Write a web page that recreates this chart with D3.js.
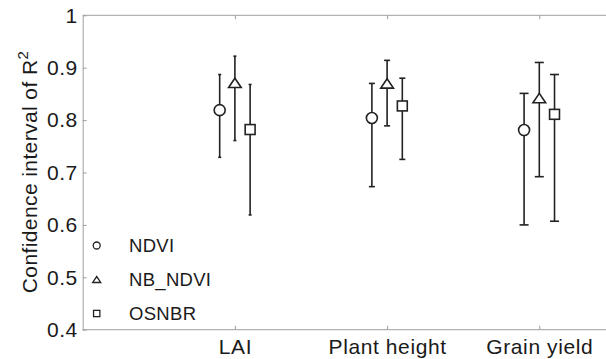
<!DOCTYPE html>
<html><head><meta charset="utf-8">
<script src="https://cdn.jsdelivr.net/npm/d3@7"></script>
<style>body{margin:0;background:#fff}svg{display:block}text{font-family:"Liberation Sans",Arial,Helvetica,sans-serif;fill:#1a1a1a}</style>
</head><body><svg id="c" width="606" height="359"></svg>
<script>
const categories = ["LAI", "Plant height", "Grain yield"];
const seriesNames = ["NDVI", "NB_NDVI", "OSNBR"];
const ndviMid   = [0.819, 0.804, 0.781];
const ndviLow   = [0.729, 0.673, 0.600];
const ndviHigh  = [0.887, 0.870, 0.851];
const nbMid     = [0.871, 0.870, 0.842];
const nbLow     = [0.761, 0.789, 0.692];
const nbHigh    = [0.922, 0.914, 0.910];
const osMid     = [0.782, 0.827, 0.811];
const osLow     = [0.619, 0.725, 0.607];
const osHigh    = [0.868, 0.880, 0.887];
const yTicks = [0.4, 0.5, 0.6, 0.7, 0.8, 0.9, 1];

const series = [
  {name: seriesNames[0], shape: "circle",   mid: ndviMid, low: ndviLow, high: ndviHigh, off: -0.1},
  {name: seriesNames[1], shape: "triangle", mid: nbMid,   low: nbLow,   high: nbHigh,   off: 0},
  {name: seriesNames[2], shape: "square",   mid: osMid,   low: osLow,   high: osHigh,   off: 0.1}
];
const capHalf = [1.5, 3, 4.5];

const svg = d3.select("#c");
const L = 82.7, T = 15.3, B = 329.7, unit = 152.2;
const x = d3.scaleLinear().domain([0, 4]).range([L, L + 4 * unit]);
const y = d3.scaleLinear().domain([0.4, 1]).range([B, T]);
const axisColor = "#a0a0a0";
const fontFam = "'Liberation Sans',Arial,sans-serif";

// frame lines
svg.append("line").attr("x1", L).attr("x2", 606).attr("y1", T).attr("y2", T).attr("stroke", axisColor);
svg.append("line").attr("x1", L).attr("x2", 606).attr("y1", B).attr("y2", B).attr("stroke", axisColor);

// y axis
const ya = svg.append("g").attr("transform", `translate(${L},0)`)
  .call(d3.axisLeft(y).tickValues(yTicks).tickFormat(d => d === 1 ? "1" : d3.format(".1f")(d)).tickSizeInner(-4).tickSizeOuter(0).tickPadding(5));
ya.select(".domain").attr("stroke", axisColor);
ya.selectAll(".tick line").attr("stroke", axisColor);
ya.selectAll(".tick text").attr("font-size", 21).attr("letter-spacing", 0.5).attr("fill", "#1a1a1a").style("font-family", fontFam);

// x axis (bottom)
const xa = svg.append("g").attr("transform", `translate(0,${B})`)
  .call(d3.axisBottom(x).tickValues([1, 2, 3]).tickFormat((d, i) => categories[i]).tickSizeInner(-4).tickSizeOuter(0).tickPadding(9));
xa.select(".domain").remove();
xa.selectAll(".tick line").attr("stroke", axisColor);
xa.selectAll(".tick text").attr("font-size", 21).attr("letter-spacing", 0.6).attr("fill", "#1a1a1a").style("font-family", fontFam);
// top ticks
const xt = svg.append("g").attr("transform", `translate(0,${T})`)
  .call(d3.axisTop(x).tickValues([1, 2, 3]).tickFormat("").tickSizeInner(-4).tickSizeOuter(0));
xt.select(".domain").remove();
xt.selectAll(".tick line").attr("stroke", axisColor);

// y title
svg.append("text").attr("transform", `translate(37,172) rotate(-90)`).attr("text-anchor", "middle")
  .attr("font-size", 21).attr("letter-spacing", 0.4)
  .html('Confidence interval of R<tspan dy="-9" font-size="15">2</tspan>');

function marker(g, shape, cx, cy, s) {
  if (shape === "circle") g.append("circle").attr("cx", cx).attr("cy", cy).attr("r", s / 2);
  else if (shape === "square") g.append("rect").attr("x", cx - s * 0.45).attr("y", cy - s * 0.45).attr("width", s * 0.9).attr("height", s * 0.9);
  else {
    const w = s * 1.15, h = s * 0.85;
    g.append("path").attr("d", `M${cx - w / 2},${cy + h / 2}L${cx + w / 2},${cy + h / 2}L${cx},${cy - h / 2}Z`);
  }
}

const plot = svg.append("g").attr("stroke", "#222").attr("stroke-width", 1.6).attr("fill", "#fff");
series.forEach(s => {
  categories.forEach((c, i) => {
    const cx = x(i + 1 + s.off);
    const g = plot.append("g");
    g.append("line").attr("x1", cx).attr("x2", cx).attr("y1", y(s.low[i])).attr("y2", y(s.high[i]));
    g.append("line").attr("x1", cx - capHalf[i]).attr("x2", cx + capHalf[i]).attr("y1", y(s.low[i])).attr("y2", y(s.low[i]));
    g.append("line").attr("x1", cx - capHalf[i]).attr("x2", cx + capHalf[i]).attr("y1", y(s.high[i])).attr("y2", y(s.high[i]));
    marker(g, s.shape, cx, y(s.mid[i]), 11);
  });
});

// legend
const lg = svg.append("g");
series.forEach((s, i) => {
  const cy = 245.5 + i * 34;
  const g = lg.append("g").attr("stroke", "#222").attr("stroke-width", 1.3).attr("fill", "#fff");
  marker(g, s.shape, 96.7, cy, 7);
  lg.append("text").attr("x", 129).attr("y", cy).attr("dy", "0.35em").attr("font-size", 18.5).attr("letter-spacing", 0.3).text(s.name);
});
</script></body></html>
